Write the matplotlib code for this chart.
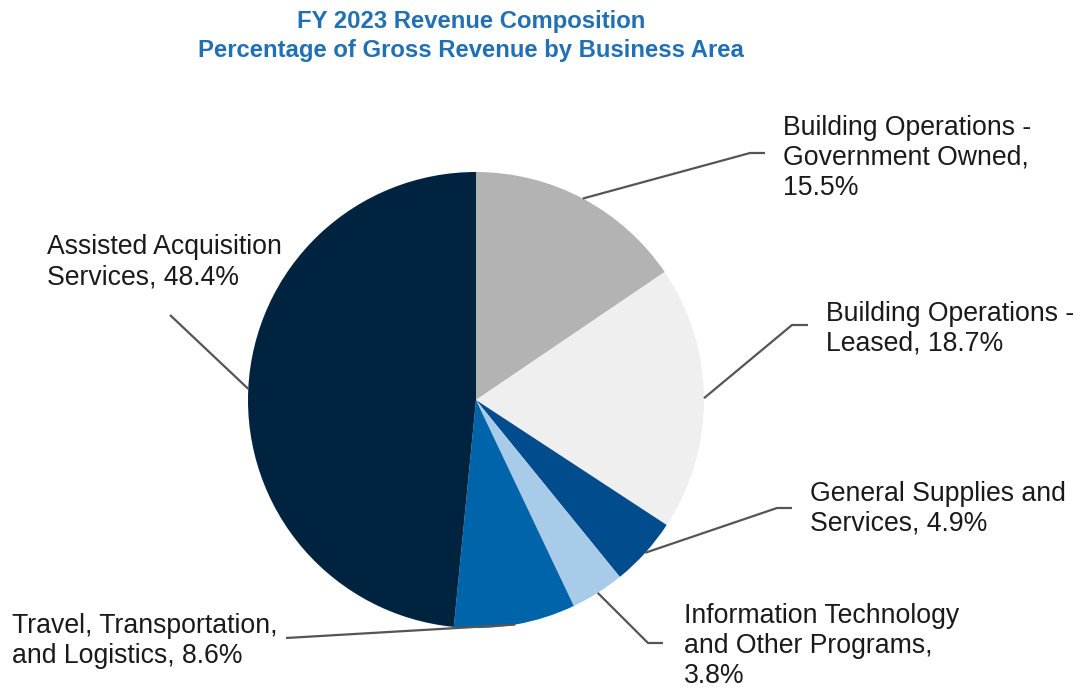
import numpy as np
import matplotlib
matplotlib.use("Agg")
import matplotlib.pyplot as plt

plt.rcParams['font.family'] = ['Liberation Sans', 'DejaVu Sans']

# FY 2023 revenue shares, clockwise from 12 o'clock
labels = [
    "Building Operations -\nGovernment Owned,\n15.5%",
    "Building Operations -\nLeased, 18.7%",
    "General Supplies and\nServices, 4.9%",
    "Information Technology\nand Other Programs,\n3.8%",
    "Travel, Transportation,\nand Logistics, 8.6%",
    "Assisted Acquisition\nServices, 48.4%",
]
shares = [15.5, 18.7, 4.9, 3.8, 8.6, 48.4]
colors = ['#B3B3B3', '#EFEFEF', '#004C8C', '#A8CBEA', '#0064AA', '#00243F']

W, H = 1085, 692
fig = plt.figure(figsize=(W / 100, H / 100), dpi=100)
ax = fig.add_axes([0, 0, 1, 1])

cx, cy, r = 476, H - 400, 228
wedges, _ = ax.pie(shares, colors=colors, startangle=90, counterclock=False,
                   center=(cx, cy), radius=r, frame=True,
                   wedgeprops=dict(linewidth=0))
ax.set_xlim(0, W)
ax.set_ylim(0, H)
ax.set_aspect('equal')
ax.axis('off')

# label placement (pixel coords from top-left): text anchor, leader elbow, leader end
text_pos = [(783, 158), (826, 329), (810, 509), (684, 646), (12, 641), (47, 262)]
elbows = [(750, 153), (792, 325), (777, 508), (648, 643), (286, 638), (170, 315)]
ends = [(765, 153), (808, 325), (792, 508), (663, 643), None, None]

for w, lab, tp, el, en in zip(wedges, labels, text_pos, elbows, ends):
    mid = np.deg2rad((w.theta1 + w.theta2) / 2)
    sx, sy = cx + r * np.cos(mid), cy + r * np.sin(mid)
    xs = [sx, el[0]]
    ys = [sy, H - el[1]]
    if en is not None:
        xs.append(en[0])
        ys.append(H - en[1])
    ax.plot(xs, ys, color='#555555', lw=1.6, solid_capstyle='butt')
    ax.text(tp[0], H - tp[1], lab, ha='left', va='center', fontsize=19.2,
            color='#1A1A1A', linespacing=1.2)

ax.text(471, H - 36, "FY 2023 Revenue Composition\nPercentage of Gross Revenue by Business Area",
        ha='center', va='center', fontsize=17.2, fontweight='bold',
        color='#2170B4', linespacing=1.32)

fig.savefig('out.png', dpi=100, facecolor='white')
